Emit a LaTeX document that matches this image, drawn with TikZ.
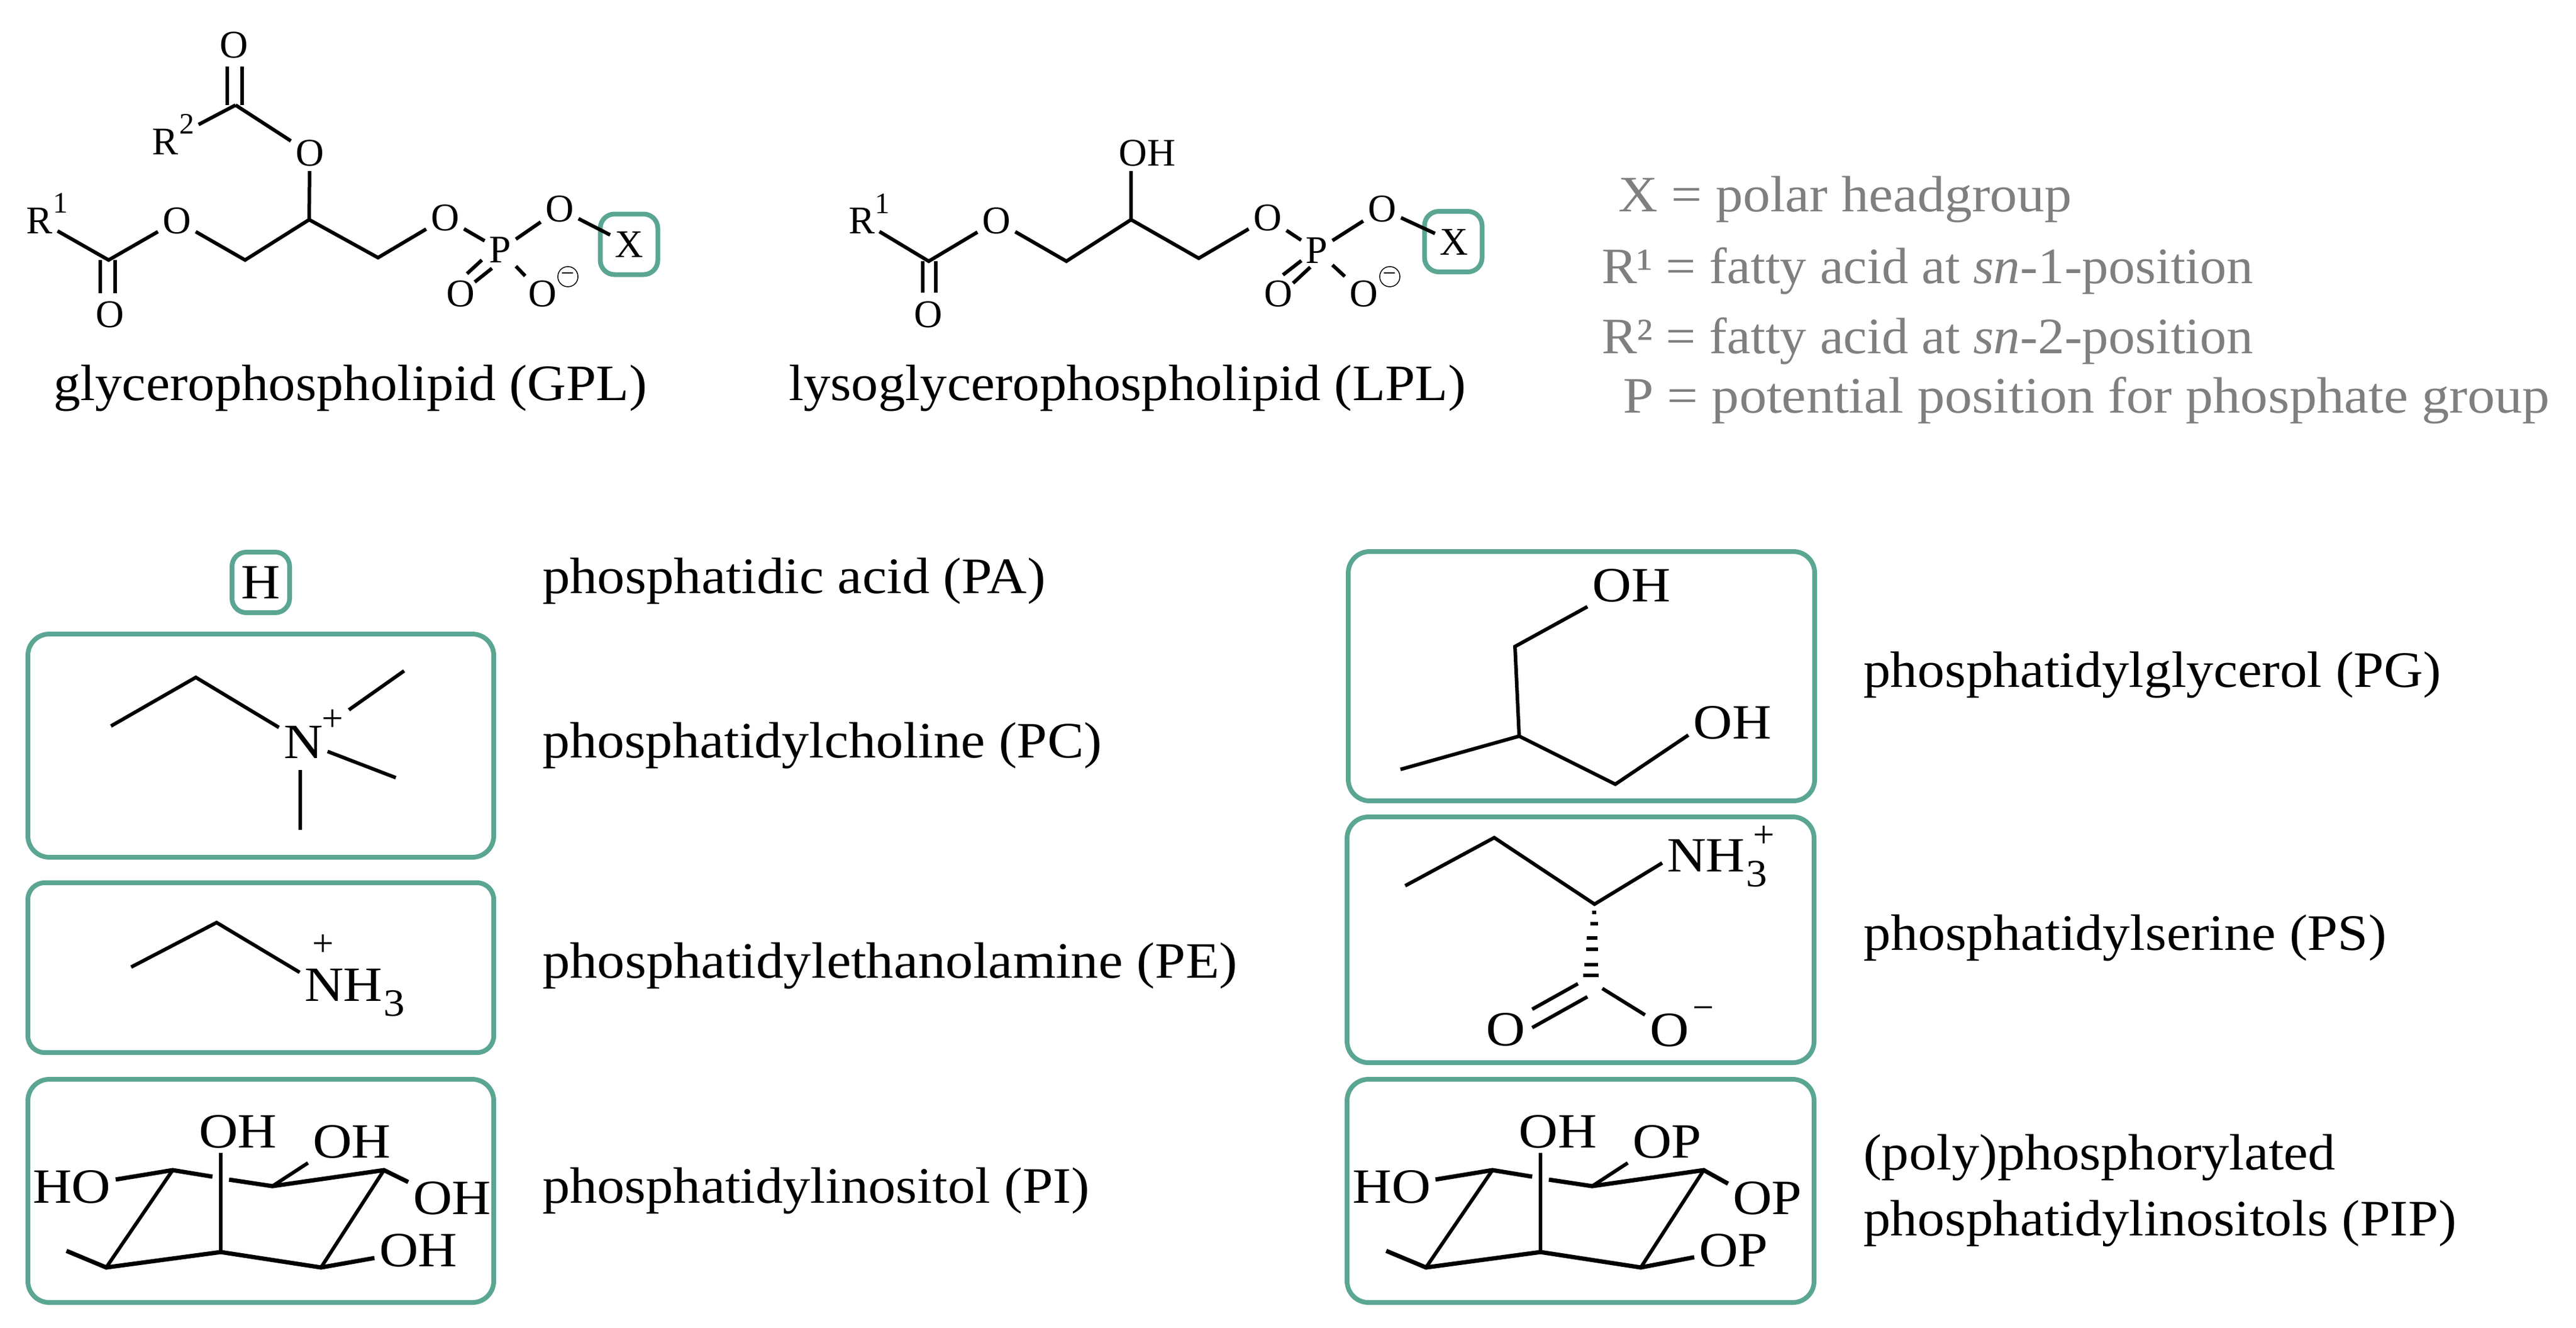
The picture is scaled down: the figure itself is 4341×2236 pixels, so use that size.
\documentclass[tikz,border=0pt]{standalone}
\usepackage{fontspec}
\setmainfont{Liberation Serif}
\newfontfamily\capfont{Liberation Serif}
\newfontfamily\nhfont[FakeStretch=1.1]{Liberation Serif}
\definecolor{boxgreen}{HTML}{5AA692}
\definecolor{legendgray}{HTML}{7F7F7F}
\newcommand{\nhthree}{NH\kern0.2pt\raisebox{-2.5pt}{\fontsize{6.5}{7}\selectfont 3}}

\begin{document}
\begin{tikzpicture}[x=0.1pt,y=-0.1pt,
    bond/.style={line width=0.6pt,black},
    frontbond/.style={line width=0.72pt,black},
    atom/.style={inner sep=0.6pt,font=\fontsize{6.6}{7}\selectfont},
    bigatom/.style={inner sep=0.6pt,font=\nhfont\fontsize{8.3}{9}\selectfont},
    supscript/.style={inner sep=0pt,font=\fontsize{5}{6}\selectfont},
    charge/.style={inner sep=0pt,font=\fontsize{6.4}{7}\selectfont},
    negcircle/.style={draw,circle,line width=0.15pt,inner sep=0pt,minimum size=3.4pt,font=\fontsize{4}{4}\selectfont},
    headbox/.style={draw=boxgreen,line width=0.8pt,rounded corners=2.4pt,minimum width=9.7pt,minimum height=10.2pt,inner sep=0pt},
    groupbox/.style={draw=boxgreen,line width=0.8pt,rounded corners=3.6pt,inner sep=0pt},
    capt/.style={anchor=base west,inner sep=0pt,font=\capfont\addfontfeature{FakeStretch=#1}\fontsize{8.6}{9}\selectfont},
    legend/.style={capt=#1,text=legendgray}]
    \useasboundingbox (0,0) rectangle (4341,2236);

    % glycerophospholipid
    \node[atom] (gob) at (394,76) {O};
    \coordinate (gcb) at (397,177);
    \node[atom] (gra) at (279,239) {R};
    \node[supscript] (grb) at (315,209) {2};
    \node[atom] (goc) at (522,258) {O};
    \coordinate (gcc) at (521,370);
    \node[atom] (gqa) at (67,372) {R};
    \node[supscript] (gqb) at (102,342) {1};
    \coordinate (gca) at (183,438);
    \node[atom] (goa) at (185,530) {O};
    \node[atom] (god) at (298,372) {O};
    \coordinate (gcd) at (413,438);
    \coordinate (gce) at (637,434);
    \node[atom] (goe) at (750,367) {O};
    \node[atom] (gp) at (843,421) {P};
    \node[atom] (gof) at (943,352) {O};
    \node[atom] (gog) at (776,495) {O};
    \node[atom] (goh) at (914,495) {O};
    \node[negcircle] (gneg) at (957,466) {−};
    \node[headbox] (gbox) at (1060,411.5) {};
    \node[atom] (gx) at (1060,412) {X};
    \draw[bond] ([shift={(-14,0)}]gcb.center) -- ([shift={(-11,36)}]gob.center);
    \draw[bond] ([shift={(11,0)}]gcb.center) -- ([shift={(14,36)}]gob.center);
    \draw[bond,shorten >=2.9pt] (gcb) -- (gra);
    \draw[bond] (gcb) -- (goc);
    \draw[bond] (goc) -- (gcc);
    \draw[bond] (gqa) -- (gca) -- (god);
    \draw[bond] ([shift={(-14,0)}]gca.center) -- ([shift={(-16,-36)}]goa.center);
    \draw[bond] ([shift={(11,0)}]gca.center) -- ([shift={(9,-36)}]goa.center);
    \draw[bond] (god) -- (gcd) -- (gcc) -- (gce) -- (goe);
    \draw[bond] (goe) -- (gp);
    \draw[bond] (gp) -- (gof);
    \draw[bond] (gof) -- (gx);
    \draw[bond] (gp) -- (goh);
    \draw[bond] ([shift={(-31,17)}]gp.center) -- ([shift={(11,-34)}]gog.center);
    \draw[bond] ([shift={(-14,31)}]gp.center) -- ([shift={(24,-20)}]gog.center);
    \node[capt=1.055] (textgpl) at (88,674) {glycerophospholipid (GPL)};

    % lysoglycerophospholipid
    \node[atom] (lqa) at (1452,372) {R};
    \node[supscript] (lqb) at (1487,343) {1};
    \coordinate (lca) at (1565,440);
    \node[atom] (loa) at (1564,530) {O};
    \node[atom] (lob) at (1679,372) {O};
    \coordinate (lcb) at (1797,440);
    \coordinate (lcc) at (1906,370);
    \node[atom] (lhy) at (1933,258) {OH};
    \coordinate (lcd) at (2020,435);
    \node[atom] (loc) at (2136,367) {O};
    \node[atom] (lp) at (2219,422) {P};
    \node[atom] (lod) at (2329,352) {O};
    \node[atom] (loe) at (2154,495) {O};
    \node[atom] (lof) at (2298,495) {O};
    \node[negcircle] (lneg) at (2342,466) {−};
    \node[headbox] (lbox) at (2449,407) {};
    \node[atom] (lx) at (2450,408) {X};
    \draw[bond] (lqa) -- (lca) -- (lob);
    \draw[bond] ([shift={(-10,0)}]lca.center) -- ([shift={(-9,-37)}]loa.center);
    \draw[bond] ([shift={(12,0)}]lca.center) -- ([shift={(13,-37)}]loa.center);
    \draw[bond] (lob) -- (lcb) -- (lcc) -- (lcd) -- (loc);
    \draw[bond] (lcc) -- (lcc |- lhy.south);
    \draw[bond] (loc) -- (lp);
    \draw[bond] (lp) -- (lod);
    \draw[bond] (lod) -- (lx);
    \draw[bond] (lp) -- (lof);
    \draw[bond] ([shift={(-26,17)}]lp.center) -- ([shift={(8,-32)}]loe.center);
    \draw[bond] ([shift={(-11,28)}]lp.center) -- ([shift={(25,-18)}]loe.center);
    \node[capt=1.055] (textlpl) at (1327,674) {lysoglycerophospholipid (LPL)};

    \node[legend=1.07] (legx) at (2725,356) {X = polar headgroup};
    \node[legend=1.04] (lega) at (2697,477) {R¹ = fatty acid at \textit{sn}-1-position};
    \node[legend=1.04] (legb) at (2697,595) {R² = fatty acid at \textit{sn}-2-position};
    \node[legend=1.075] (legp) at (2733,695) {P = potential position for phosphate group};

    % left column
    \node[headbox,bigatom,inner sep=0pt] (hbox) at (439.5,981) {H};
    \node[capt=1.08] (textpa) at (912,999) {phosphatidic acid (PA)};

    \node[groupbox,minimum width=78.5pt,minimum height=37.6pt] (boxpc) at (439.5,1256) {};
    \coordinate (pca) at (187,1223);
    \coordinate (pcb) at (330,1141);
    \node[bigatom] (pcn) at (511,1250) {N};
    \node[charge] (pcp) at (561,1213) {+};
    \coordinate (pcc) at (681,1130);
    \coordinate (pcd) at (667,1310);
    \coordinate (pce) at (506,1398);
    \draw[bond] (pca) -- (pcb) -- (pcn);
    \draw[bond,shorten <=4.4pt] (pcn) -- (pcc);
    \draw[bond] (pcn) -- (pcd);
    \draw[bond,shorten <=1.2pt] (pcn.south -| pce) -- (pce);
    \node[capt=1.07] (textpc) at (912,1276) {phosphatidylcholine (PC)};

    \node[groupbox,rounded corners=2.8pt,minimum width=78.5pt,minimum height=28.6pt] (boxpe) at (439.5,1630) {};
    \coordinate (pea) at (221,1629);
    \coordinate (peb) at (365,1554);
    \node[bigatom,anchor=base west] (pen) at (505,1686) {\nhthree};
    \node[charge] (pep) at (545,1592) {+};
    \draw[bond] (pea) -- (peb) -- (pen.160);
    \node[capt=1.078] (textpe) at (912,1647) {phosphatidylethanolamine (PE)};

    % inositol rings
    \node[groupbox,minimum width=78.5pt,minimum height=37.6pt] (boxpi) at (439.5,2006) {};
    \node[groupbox,minimum width=78.7pt,minimum height=37.6pt] (boxpip) at (2663.5,2006) {};
    \foreach \ring/\dx/\lab in {pi/0/OH,pip/2224/OP} {
    \begin{scope}[shift={(\dx,0)}]
    \coordinate (\ring a) at (112,2107);
    \coordinate (\ring b) at (179,2135);
    \coordinate (\ring c) at (372,2109);
    \coordinate (\ring d) at (541,2135);
    \coordinate (\ring e) at (647,1971);
    \coordinate (\ring f) at (459,1998);
    \coordinate (\ring g) at (291,1971);
    \coordinate (\ring h) at (358,1982);
    \coordinate (\ring i) at (386,1987);
    \node[bigatom] (\ring ho) at (121,1999) {HO};
    \node[bigatom] (\ring oh) at (401,1906) {OH};
    \node[bigatom,anchor=west] (\ring u) at (519,1923) {\lab};
    \node[bigatom,anchor=west] (\ring v) at (688,2018) {\lab};
    \node[bigatom,anchor=west] (\ring w) at (631,2106) {\lab};
    \draw[frontbond] (\ring a) -- (\ring b) -- (\ring c) -- (\ring d) -- (\ring w.190);
    \draw[bond] (\ring b) -- (\ring g);
    \draw[bond] (\ring d) -- (\ring e);
    \draw[bond] (\ring c) -- (\ring c |- \ring oh.south);
    \draw[frontbond] (\ring ho) -- (\ring g) -- (\ring h);
    \draw[frontbond] (\ring i) -- (\ring f) -- (\ring e) -- (\ring v.160);
    \draw[bond] (\ring f) -- (\ring u.south west);
    \end{scope}
    }
    \node[capt=1.075] (textpi) at (912,2026) {phosphatidylinositol (PI)};

    % right column
    \node[groupbox,minimum width=78.6pt,minimum height=42pt] (boxpg) at (2665,1139) {};
    \coordinate (pga) at (2360,1296);
    \coordinate (pgb) at (2560,1240);
    \coordinate (pgc) at (2553,1089);
    \coordinate (pgd) at (2722,1321);
    \node[bigatom] (pgoa) at (2749,986) {OH};
    \node[bigatom] (pgob) at (2919,1217) {OH};
    \draw[bond] (pga) -- (pgb) -- (pgc) -- (pgoa.south west);
    \draw[bond] (pgb) -- (pgd) -- (pgob.196);
    \node[capt=1.065] (textpg) at (3138,1157) {phosphatidylglycerol (PG)};

    \node[groupbox,minimum width=78.7pt,minimum height=41.4pt] (boxps) at (2663.5,1583) {};
    \coordinate (psa) at (2368,1492);
    \coordinate (psb) at (2518,1411);
    \coordinate (psd) at (2687,1523);
    \coordinate (psc) at (2684,1655);
    \node[bigatom,anchor=base west] (psn) at (2801,1468) {\nhthree};
    \node[charge] (psp) at (2972,1409) {+};
    \node[bigatom] (psoa) at (2537,1734) {O};
    \node[bigatom] (psob) at (2813,1735) {O};
    \node[charge] (psm) at (2870,1707) {−};
    \draw[bond] (psa) -- (psb) -- (psd) -- (psn.west);
    \foreach \hy/\hx/\hw in {1537/2686/3.5,1556/2686/6.5,1580/2683/9,1599/2683/10,1625/2681/11.5,1643/2681/13}
        \draw[bond] (\hx-\hw,\hy) -- (\hx+\hw,\hy);
    \draw[bond] ([shift={(-25,2)}]psc.center) -- ([shift={(45,-34)}]psoa.center);
    \draw[bond] ([shift={(-9,24)}]psc.center) -- ([shift={(45,-3)}]psoa.center);
    \draw[bond,shorten <=1.9pt] (psc) -- (psob);
    \node[capt=1.07] (textps) at (3138,1600) {phosphatidylserine (PS)};

    \node[capt=1.075] (textpipa) at (3138,1970) {(poly)phosphorylated};
    \node[capt=1.065] (textpipb) at (3138,2081) {phosphatidylinositols (PIP)};
\end{tikzpicture}
\end{document}
